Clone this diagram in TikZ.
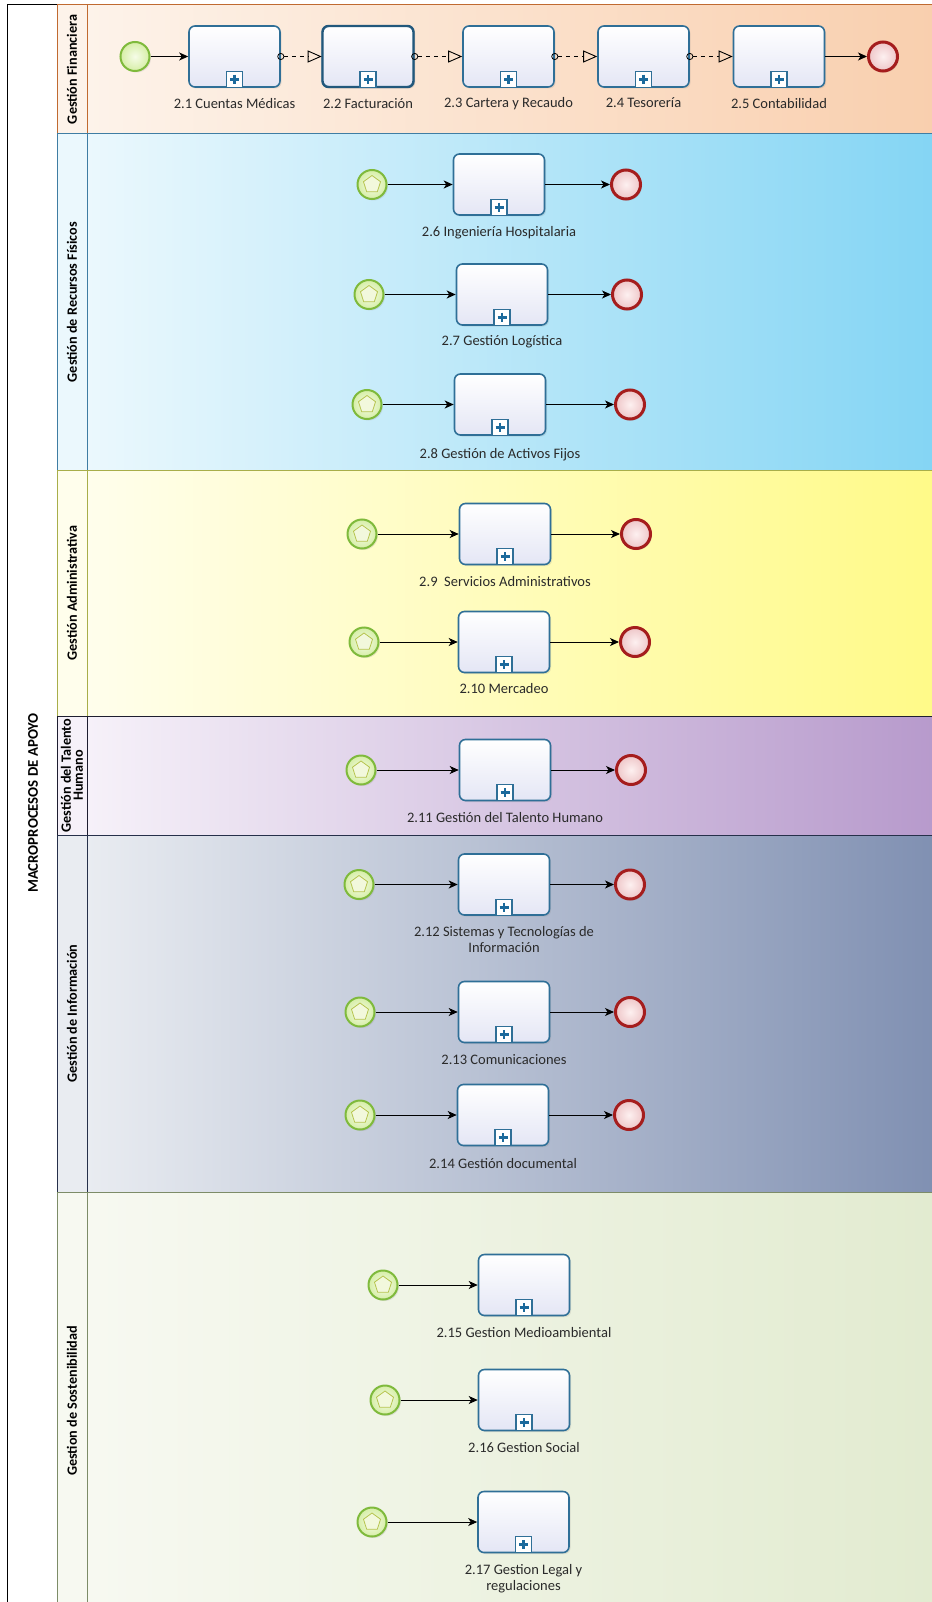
\documentclass[tikz,border=0pt]{standalone}
\usepackage{fontspec}
\setmainfont{Carlito}
\usetikzlibrary{arrows.meta,shapes.geometric,shadows}

% palette
\definecolor{taskblue}{HTML}{2F6F97}
\definecolor{taskdark}{HTML}{22587C}
\definecolor{taskfill}{HTML}{E4E6F5}
\definecolor{plusblue}{HTML}{1C6A9C}
\definecolor{startgreen}{HTML}{7FBA3C}
\definecolor{startin}{HTML}{F6FCE8}
\definecolor{startout}{HTML}{D6EEA6}
\definecolor{pentcol}{HTML}{B6C44E}
\definecolor{pentfill}{HTML}{F2F8DC}
\definecolor{endred}{HTML}{A51D1D}
\definecolor{endin}{HTML}{FDF0F0}
\definecolor{endout}{HTML}{EEC6C8}
\definecolor{txt}{HTML}{2A2A2A}
% lane colours: light, deep, border
\definecolor{finL}{HTML}{FDF3EA}\definecolor{finR}{HTML}{F9CFAE}\definecolor{finB}{HTML}{C06A30}
\definecolor{recL}{HTML}{EBF8FD}\definecolor{recR}{HTML}{84D5F4}\definecolor{recB}{HTML}{3F7DA3}
\definecolor{admL}{HTML}{FFFEEC}\definecolor{admR}{HTML}{FFFA88}\definecolor{admB}{HTML}{A8AE4A}
\definecolor{talL}{HTML}{F6F1F9}\definecolor{talR}{HTML}{B79ACC}\definecolor{talB}{HTML}{1E1E30}
\definecolor{infL}{HTML}{E9ECF1}\definecolor{infR}{HTML}{8090B2}\definecolor{infB}{HTML}{26304A}
\definecolor{sosL}{HTML}{F7F9F1}\definecolor{sosR}{HTML}{E2EBD0}\definecolor{sosB}{HTML}{7D8C68}

\tikzset{
  taskbox/.style={rectangle, rounded corners=6pt, draw=taskblue, line width=1.6pt,
    top color=white, bottom color=taskfill, minimum width=91pt, minimum height=61pt,
    inner sep=0pt, drop shadow={shadow xshift=1.5pt, shadow yshift=-1.5pt, opacity=0.18}},
  submark/.style={rectangle, draw=taskblue, line width=1.2pt, fill=white,
    minimum size=16pt, inner sep=0pt},
  plusmark/.style={draw=plusblue, line width=2.8pt},
  startev/.style={circle, minimum size=29pt, inner sep=0pt, draw=startgreen, line width=2pt,
    inner color=startin, outer color=startout,
    drop shadow={shadow xshift=1.5pt, shadow yshift=-1.5pt, opacity=0.18}},
  pent/.style={regular polygon, regular polygon sides=5, minimum size=18pt, inner sep=0pt,
    draw=pentcol, line width=0.8pt, fill=pentfill},
  endev/.style={circle, minimum size=29pt, inner sep=0pt, draw=endred, line width=3pt,
    inner color=endin, outer color=endout,
    drop shadow={shadow xshift=1.5pt, shadow yshift=-1.5pt, opacity=0.18}},
  seq/.style={draw=black, line width=0.9pt, -{Stealth[length=9pt,width=8pt,inset=2.5pt]}},
  msg/.style={draw=black, line width=0.8pt, dash pattern=on 4pt off 4pt,
    {Circle[open,length=7pt,width=7pt,line width=0.8pt]}-{Triangle[open,length=14pt,width=12pt,line width=0.9pt]},
    shorten <=-3.5pt},
  lbl/.style={text=txt, font=\fontsize{14.5}{16}\selectfont, align=center, inner sep=1pt},
  lanetitle/.style={rotate=90, text=black, font=\fontsize{14.2}{15.5}\selectfont\bfseries,
    align=center, inner sep=0pt},
}

% sub-process: name, x, y, label y, label text
\newcommand\subproc[5]{%
  \node[taskbox] (#1) at (#2,#3) {};
  \node[submark, anchor=south] (#1m) at (#1.south) {};
  \draw[plusmark] (#1m.center) ++(-4.5,0) -- ++(9,0);
  \draw[plusmark] (#1m.center) ++(0,-4.5) -- ++(0,9);
  \node[lbl] (#1l) at (#2,#4) {#5};
}
% multiple start event: name, x, y
\newcommand\mstart[3]{%
  \node[startev] (#1) at (#2,#3) {};
  \node[pent] (#1p) at (#1.center) {};
}
% lane: name, top, bottom, light, deep, border, title
\newcommand\lane[7]{%
  \shade[left color=#4, right color=#5] (87,#2) rectangle (935,#3);
  \fill[#4] (57,#2) rectangle (87,#3);
  \draw[#6, line width=1pt] (57,#2) rectangle (935,#3);
  \draw[#6, line width=1pt] (87,#2) -- (87,#3);
  \node[lanetitle] (#1) at (72,{(#2+#3)/2}) {#7};
}

\begin{document}
\begin{tikzpicture}[x=1pt, y=-1pt]
\useasboundingbox (0,0) rectangle (931,1602);
\fill[white] (0,0) rectangle (931,1602);

% pool
\draw[black, line width=1pt] (7,5) rectangle (940,1610);
\node[lanetitle, font=\fontsize{14.8}{16}\selectfont\bfseries] (pool) at (33,803) {MACROPROCESOS DE APOYO};

% lanes
\lane{lfin}{5}{134}{finL}{finR}{finB}{Gestión Financiera}
\lane{lrec}{134}{470}{recL}{recR}{recB}{Gestión de Recursos Físicos}
\lane{ladm}{470}{716}{admL}{admR}{admB}{Gestión Administrativa}
\lane{ltal}{716}{835}{talL}{talR}{talB}{Gestión del Talento\\[-3.5pt]Humano}
\lane{linf}{835}{1192}{infL}{infR}{infB}{Gestión de Información}
\lane{lsos}{1192}{1610}{sosL}{sosR}{sosB}{Gestion de Sostenibilidad}

% ---- Gestión Financiera
\node[startev] (s0) at (135,56.5) {};
\subproc{t1}{234.5}{56.5}{104}{2.1 Cuentas Médicas}
\subproc{t2}{368}{56.5}{104}{2.2 Facturación}
\subproc{t3}{508.5}{56.5}{104}{2.3 Cartera y Recaudo}
\subproc{t4}{643.5}{56.5}{103}{2.4 Tesorería}
\subproc{t5}{779}{56.5}{104}{2.5 Contabilidad}
\node[taskbox, draw=taskdark, line width=2.4pt] (t2b) at (t2) {};
\node[submark, anchor=south] (t2bm) at (t2b.south) {};
\draw[plusmark] (t2bm.center) ++(-4.5,0) -- ++(9,0);
\draw[plusmark] (t2bm.center) ++(0,-4.5) -- ++(0,9);
\node[endev] (e0) at (883,56.5) {};
\draw[seq] (s0) -- (t1);
\draw[msg] (t1.east) -- (t2.west);
\draw[msg] (t2b.east) -- (t3.west);
\draw[msg] (t3.east) -- (t4.west);
\draw[msg] (t4.east) -- (t5.west);
\draw[seq] (t5) -- (e0);

% ---- Gestión de Recursos Físicos
\mstart{s6}{372}{184.5}
\subproc{t6}{499}{184.5}{233}{2.6 Ingeniería Hospitalaria}
\node[endev] (e6) at (626,184.5) {};
\draw[seq] (s6) -- (t6);
\draw[seq] (t6) -- (e6);

\mstart{s7}{369}{294.5}
\subproc{t7}{502}{294.5}{342}{2.7 Gestión Logística}
\node[endev] (e7) at (627,294.5) {};
\draw[seq] (s7) -- (t7);
\draw[seq] (t7) -- (e7);

\mstart{s8}{367}{404.5}
\subproc{t8}{500}{404.5}{455}{2.8 Gestión de Activos Fijos}
\node[endev] (e8) at (630,404.5) {};
\draw[seq] (s8) -- (t8);
\draw[seq] (t8) -- (e8);

% ---- Gestión Administrativa
\mstart{s9}{362}{534}
\subproc{t9}{505}{534}{582}{2.9\ \ Servicios Administrativos}
\node[endev] (e9) at (636,534) {};
\draw[seq] (s9) -- (t9);
\draw[seq] (t9) -- (e9);

\mstart{s10}{364}{642}
\subproc{t10}{504}{642}{689}{2.10 Mercadeo}
\node[endev] (e10) at (635,642) {};
\draw[seq] (s10) -- (t10);
\draw[seq] (t10) -- (e10);

% ---- Gestión del Talento Humano
\mstart{s11}{361}{770}
\subproc{t11}{505}{770}{818}{2.11 Gestión del Talento Humano}
\node[endev] (e11) at (631,770) {};
\draw[seq] (s11) -- (t11);
\draw[seq] (t11) -- (e11);

% ---- Gestión de Información
\mstart{s12}{359}{884.5}
\subproc{t12}{504}{884.5}{939.5}{2.12 Sistemas y Tecnologías de\\Información}
\node[endev] (e12) at (630,884.5) {};
\draw[seq] (s12) -- (t12);
\draw[seq] (t12) -- (e12);

\mstart{s13}{360}{1012}
\subproc{t13}{504}{1012}{1060}{2.13 Comunicaciones}
\node[endev] (e13) at (630,1012) {};
\draw[seq] (s13) -- (t13);
\draw[seq] (t13) -- (e13);

\mstart{s14}{360}{1115}
\subproc{t14}{503}{1115}{1164}{2.14 Gestión documental}
\node[endev] (e14) at (629,1115) {};
\draw[seq] (s14) -- (t14);
\draw[seq] (t14) -- (e14);

% ---- Gestion de Sostenibilidad
\mstart{s15}{383}{1285}
\subproc{t15}{524}{1285}{1333}{2.15 Gestion Medioambiental}
\draw[seq] (s15) -- (t15);

\mstart{s16}{385}{1400}
\subproc{t16}{524}{1400}{1448}{2.16 Gestion Social}
\draw[seq] (s16) -- (t16);

\mstart{s17}{372}{1522}
\subproc{t17}{523.5}{1522}{1579}{2.17 Gestion Legal y\\regulaciones}
\draw[seq] (s17) -- (t17);

\end{tikzpicture}
\end{document}
